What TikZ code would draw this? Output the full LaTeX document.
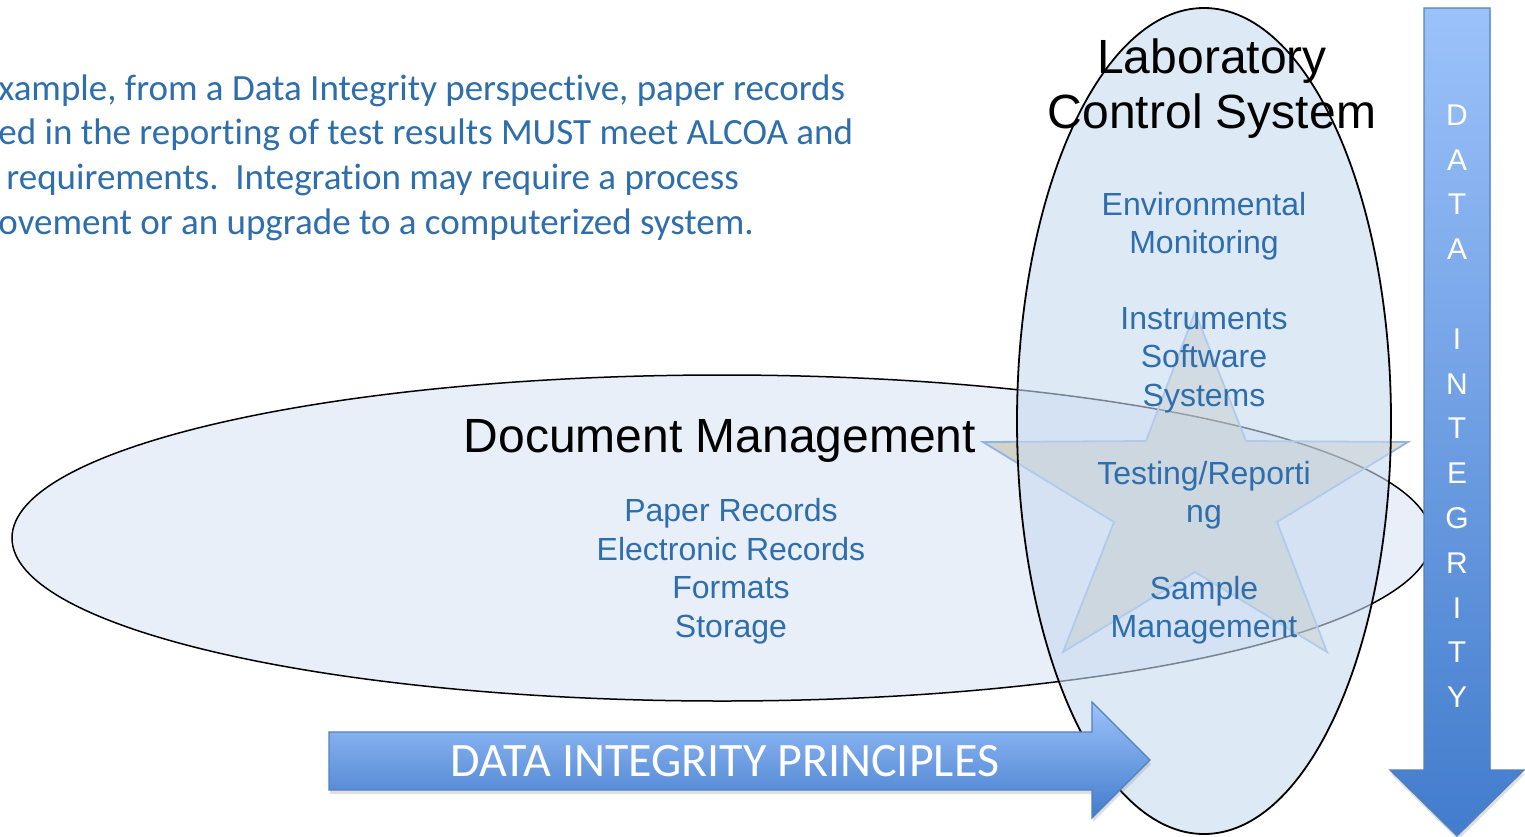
\documentclass[tikz,border=0pt]{standalone}
\usepackage{fontspec}
\setmainfont{Liberation Sans}
\newfontfamily\calibri[Ligatures=NoCommon]{Carlito}
\usetikzlibrary{shadows}
\definecolor{textblue}{RGB}{46,110,172}
\definecolor{docfill}{RGB}{232,239,249}
\definecolor{labfill}{RGB}{200,218,240}
\definecolor{starfill}{RGB}{180,172,130}
\definecolor{staredge}{RGB}{142,180,227}
\definecolor{arrowtop}{RGB}{156,194,250}
\definecolor{arrowbot}{RGB}{66,124,204}
\definecolor{arrowedge}{RGB}{84,128,190}
\begin{document}
\begin{tikzpicture}[x=0.5pt,y=-0.5pt,
  title/.style={font=\fontsize{24}{27.5}\selectfont,text=black,align=center,inner sep=0pt},
  item/.style={font=\fontsize{16}{19.25}\selectfont,text=textblue,align=center,inner sep=0pt},
  letter/.style={font=\fontsize{15}{18}\selectfont,text=white,inner sep=0pt},
  bigarrow/.style={top color=arrowtop,bottom color=arrowbot,draw=arrowedge,line width=0.6pt,
    drop shadow={shadow xshift=0.5pt,shadow yshift=-2pt,opacity=0.25}}]
\useasboundingbox (0,0) rectangle (1525,836);

% document management set
\filldraw[fill=docfill,draw=black,line width=0.75pt] (722,538) ellipse [x radius=710,y radius=163];

% star in the overlap
\filldraw[fill=starfill,fill opacity=0.4,draw=staredge,line width=0.9pt]
  (1195,312) -- (1246,441) -- (1408,442) -- (1277,522) -- (1327,652) -- (1195,572)
  -- (1063,652) -- (1114,522) -- (983,442) -- (1146,441) -- cycle;

% laboratory control system set
\filldraw[fill=labfill,fill opacity=0.6,draw=black,line width=0.9pt] (1204,421) ellipse [x radius=187,y radius=413];

\node[anchor=north west,align=left,text=textblue,inner sep=0pt,
  font=\calibri\fontsize{18.5}{22.35}\selectfont] (note) at (-2,74)
  {xample, from a Data Integrity perspective, paper records\\
   ed in the reporting of test results MUST meet ALCOA and\\
   \hspace{4pt}requirements.\ \ Integration may require a process\\
   ovement or an upgrade to a computerized system.};

\node[title] (doc) at (720,441) {Document Management};
\node[title] (lab) at (1212,89) {Laboratory\\Control System};

\node[item] (docitems) at (731,571) {Paper Records\\Electronic Records\\Formats\\Storage};
\node[item] (env) at (1204,226) {Environmental\\Monitoring};
\node[item] (inst) at (1204,360) {Instruments\\Software\\Systems};
\node[item] (test) at (1204,495) {Testing/Reporti\\ng};
\node[item] (sample) at (1204,610) {Sample\\Management};

% arrows
\path[bigarrow] (329,732) -- (1092,732) -- (1092,702) -- (1150,760) -- (1092,818)
  -- (1092,790) -- (329,790) -- cycle;
\node[font=\calibri\fontsize{24}{28}\selectfont,text=white] (principles) at (725,761) {DATA INTEGRITY PRINCIPLES};

\path[bigarrow] (1424,8) -- (1490,8) -- (1490,770) -- (1524,770) -- (1457,836)
  -- (1390,770) -- (1424,770) -- cycle;
\foreach\ch [count=\i from 0] in {D,A,T,A,{},I,N,T,E,G,R,I,T,Y}{
  \node[letter] (l\i) at (1457,{115+44.8*\i}) {\ch};
}

\end{tikzpicture}
\end{document}
